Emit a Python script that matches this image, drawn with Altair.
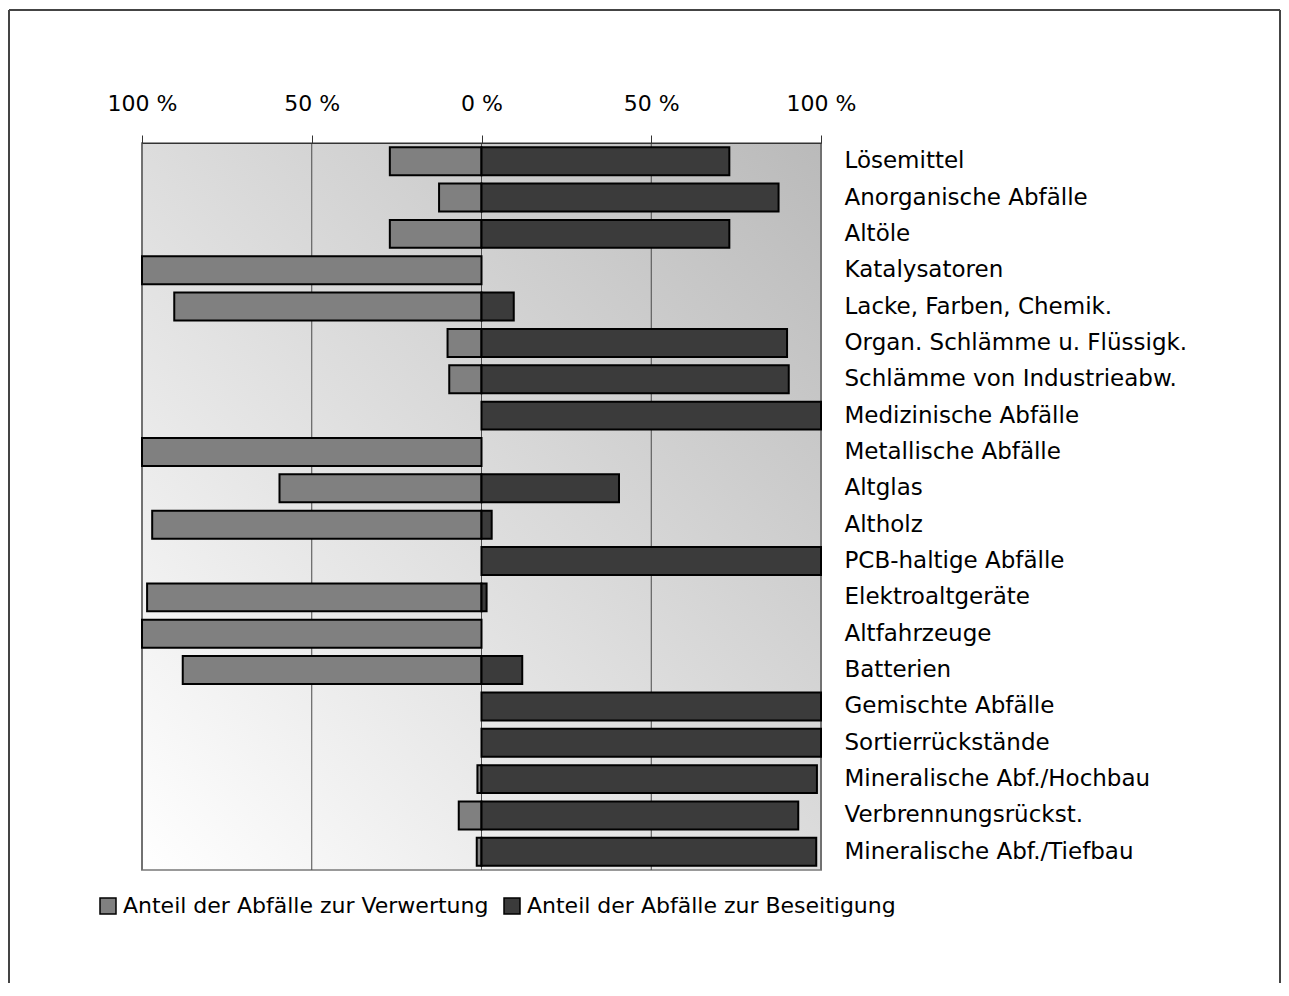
import altair as alt
import pandas as pd

categories = [
    "Lösemittel", "Anorganische Abfälle", "Altöle", "Katalysatoren",
    "Lacke, Farben, Chemik.", "Organ. Schlämme u. Flüssigk.",
    "Schlämme von Industrieabw.", "Medizinische Abfälle", "Metallische Abfälle",
    "Altglas", "Altholz", "PCB-haltige Abfälle", "Elektroaltgeräte",
    "Altfahrzeuge", "Batterien", "Gemischte Abfälle", "Sortierrückstände",
    "Mineralische Abf./Hochbau", "Verbrennungsrückst.", "Mineralische Abf./Tiefbau",
]
verwertung = [27, 12.5, 27, 100, 90.5, 10, 9.5, 0, 100, 59.5, 97, 0, 98.5, 100, 88, 0, 0, 1.2, 6.7, 1.4]
beseitigung = [73, 87.5, 73, 0, 9.5, 90, 90.5, 100, 0, 40.5, 3, 100, 1.5, 0, 12, 100, 100, 98.8, 93.3, 98.6]
series = ["Anteil der Abfälle zur Verwertung", "Anteil der Abfälle zur Beseitigung"]
series_colors = ["#808080", "#3b3b3b"]
tick_values = [-100, -50, 0, 50, 100]

rows = []
for c, v, b in zip(categories, verwertung, beseitigung):
    if v > 0:
        rows.append({"cat": c, "series": series[0], "start": -v, "end": 0})
    if b > 0:
        rows.append({"cat": c, "series": series[1], "start": 0, "end": b})
df = pd.DataFrame(rows)
grid_df = pd.DataFrame({"start": tick_values})
one = pd.DataFrame({"a": [0]})

W, H = 679, 727
FONT = "DejaVu Sans"

xscale = alt.Scale(domain=[-100, 100], nice=False, zero=False)
xaxis = alt.Axis(orient="top", values=tick_values, grid=False,
                 labelExpr="abs(datum.value) + ' %'", title=None,
                 tickSize=8, tickColor="#333333", domainColor="#333333",
                 labelFont=FONT, labelFontSize=22, labelColor="black",
                 labelPadding=20, zindex=1, labelFlush=False)

gradient = alt.LinearGradient(
    gradient="linear",
    stops=[alt.GradientStop(offset=0, color="#ffffff"),
           alt.GradientStop(offset=1, color="#bababa")],
    x1=0, y1=1, x2=1, y2=0,
)

bg = alt.Chart(one).mark_rect(color=gradient).encode(
    x=alt.value(0), x2=alt.value(W), y=alt.value(0), y2=alt.value(H)
)
border = alt.Chart(one).mark_rect(filled=False, stroke="#999999", strokeWidth=2).encode(
    x=alt.value(0), x2=alt.value(W), y=alt.value(0), y2=alt.value(H)
)
grid = alt.Chart(grid_df).mark_rule(color="#4a4a4a", strokeWidth=1).encode(
    x=alt.X("start:Q", scale=xscale, axis=xaxis)
)
bars = alt.Chart(df).mark_bar(stroke="black", strokeWidth=2).encode(
    x=alt.X("start:Q", scale=xscale, axis=xaxis),
    x2="end:Q",
    y=alt.Y("cat:N", sort=categories,
            scale=alt.Scale(paddingInner=0.23, paddingOuter=0.115),
            axis=alt.Axis(orient="right", title=None, ticks=False, domain=False,
                          labelFont=FONT, labelFontSize=23, labelColor="black",
                          labelPadding=23, labelLimit=600)),
    color=alt.Color("series:N",
                    scale=alt.Scale(domain=series, range=series_colors),
                    legend=alt.Legend(orient="none", legendX=-45, legendY=752,
                                      direction="horizontal", title=None,
                                      symbolType="square", symbolSize=256,
                                      symbolStrokeColor="black", symbolStrokeWidth=1.5,
                                      labelFont=FONT, labelFontSize=22,
                                      labelColor="black", labelOffset=4,
                                      columnPadding=12, padding=0, labelLimit=600)),
)

frame_left = alt.Chart(one).mark_rule(color="#444444", strokeWidth=2).encode(
    x=alt.value(-133), y=alt.value(-133), y2=alt.value(850)
)
frame_top = alt.Chart(one).mark_rule(color="#444444", strokeWidth=2).encode(
    x=alt.value(-133), x2=alt.value(1138), y=alt.value(-133)
)
frame_right = alt.Chart(one).mark_rule(color="#444444", strokeWidth=2).encode(
    x=alt.value(1138), y=alt.value(-133), y2=alt.value(850)
)

chart = alt.layer(bg, border, grid, bars, frame_left, frame_top, frame_right).properties(
    width=W, height=H,
    autosize=alt.AutoSizeParams(type="none"),
    padding={"left": 134, "top": 135, "right": 460, "bottom": 113},
).configure_view(stroke=None).configure(background="white")

chart.save("out.html", embed_options={"renderer": "svg", "actions": False})
